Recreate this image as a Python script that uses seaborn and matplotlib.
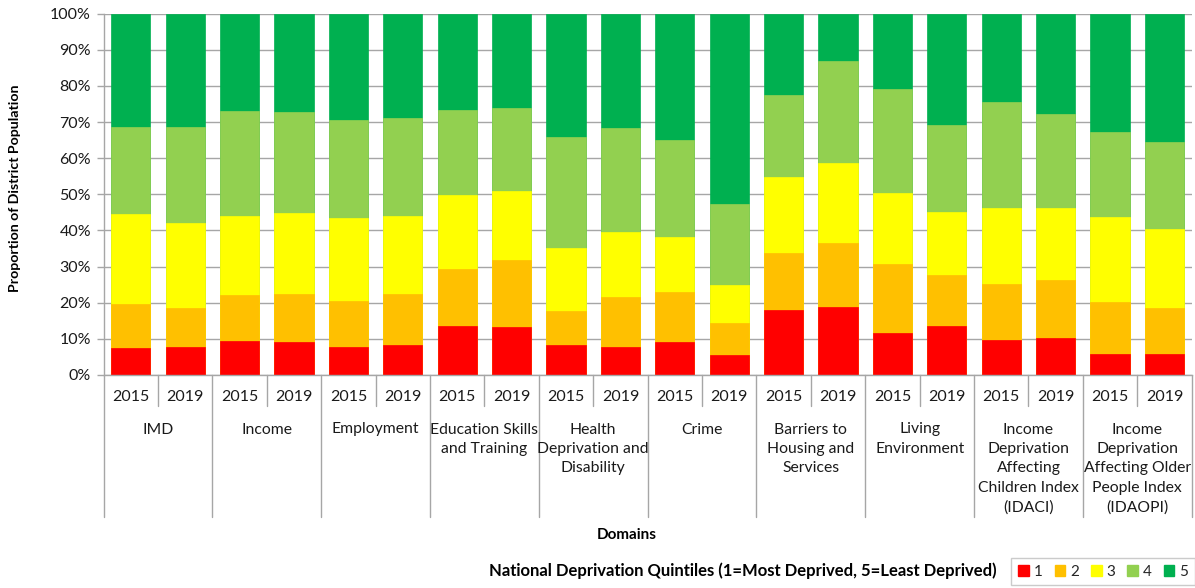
import numpy as np
import pandas as pd
import matplotlib
matplotlib.use("Agg")
import matplotlib.pyplot as plt
import matplotlib.transforms as mtransforms
from matplotlib.patches import Patch
import seaborn as sns

# ---- data ----
domains = ["IMD", "Income", "Employment", "Education Skills\nand Training",
           "Health\nDeprivation and\nDisability", "Crime",
           "Barriers to\nHousing and\nServices", "Living\nEnvironment",
           "Income\nDeprivation\nAffecting\nChildren Index\n(IDACI)",
           "Income\nDeprivation\nAffecting Older\nPeople Index\n(IDAOPI)"]
years = ["2015", "2019"]

q1 = [7.5, 7.7, 9.3, 9.0, 7.8, 8.2, 13.7, 13.2, 8.4, 7.8, 9.2, 5.4, 18.1, 18.7, 11.7, 13.7, 9.8, 10.3, 5.7, 5.9]
q2 = [12.1, 10.9, 12.8, 13.4, 12.6, 14.1, 15.6, 18.5, 9.4, 13.7, 13.9, 9.1, 15.8, 17.8, 19.1, 13.9, 15.4, 16.0, 14.5, 12.7]
q3 = [25.0, 23.6, 22.0, 22.3, 23.1, 21.6, 20.6, 19.1, 17.3, 18.1, 15.2, 10.4, 21.0, 22.1, 19.6, 17.4, 21.1, 19.8, 23.5, 21.8]
q4 = [24.0, 26.5, 29.1, 28.1, 27.0, 27.3, 23.4, 23.0, 30.9, 28.9, 26.7, 22.4, 22.6, 28.2, 28.8, 24.1, 29.2, 26.2, 23.6, 24.2]
q5 = [31.4, 31.3, 26.8, 27.2, 29.5, 28.8, 26.7, 26.2, 34.0, 31.5, 35.0, 52.7, 22.5, 13.2, 20.8, 30.9, 24.5, 27.7, 32.7, 35.4]

quintile_labels = ["1", "2", "3", "4", "5"]
colors = ["#FF0000", "#FFC000", "#FFFF00", "#92D050", "#00B050"]

# ---- build frame ----
n = len(q1)
pos = [str(i) for i in range(n)]
year_labels = [years[i % 2] for i in range(n)]
series = np.array([q1, q2, q3, q4, q5])
cum = np.cumsum(series, axis=0)
df = pd.DataFrame({"pos": pos})
for k in range(5):
    df[f"c{k}"] = cum[k]

sns.set_theme(style="white")
plt.rcParams["font.family"] = ["Lato", "DejaVu Sans"]

W, H = 1195, 588
fig = plt.figure(figsize=(W / 100, H / 100), dpi=100)
left_px, right_px, top_px, bot_px = 103.5, 1191.7, 13.7, 375.0
ax = fig.add_axes([left_px / W, 1 - bot_px / H, (right_px - left_px) / W, (bot_px - top_px) / H])

for k in range(4, -1, -1):
    sns.barplot(data=df, x="pos", y=f"c{k}", order=pos, color=colors[k],
                saturation=1, width=0.72, ax=ax, edgecolor=colors[k], linewidth=0.5)

TXT = "#1a1a1a"
ax.set_xlim(-0.5, n - 0.5)
ax.set_ylim(0, 100)
ax.set_yticks(np.arange(0, 101, 10))
ax.set_yticklabels([f"{v}%" for v in range(0, 101, 10)], fontsize=11.5, color=TXT)
ax.yaxis.grid(True, color="#A6A6A6", linewidth=1.0)
ax.set_axisbelow(True)
ax.tick_params(axis="y", length=5, width=1, color="#A6A6A6", pad=4, left=True)
ax.set_xticks(range(n))
ax.set_xticklabels(year_labels, fontsize=11.5, color=TXT)
ax.tick_params(axis="x", length=0, pad=11)
ax.set_xlabel("")
ax.set_ylabel("")
for s in ["top", "right"]:
    ax.spines[s].set_visible(False)
for s in ["left", "bottom"]:
    ax.spines[s].set_color("#A6A6A6")
    ax.spines[s].set_linewidth(1.0)

# category separators
ah = bot_px - top_px
trans = mtransforms.blended_transform_factory(ax.transData, ax.transAxes)
y_short = -(406 - bot_px) / ah
y_long = -(517 - bot_px) / ah
for i in range(n + 1):
    x = i - 0.5
    yb = y_long if i % 2 == 0 else y_short
    ax.plot([x, x], [0, yb], transform=trans, color="#A6A6A6", lw=1.0, clip_on=False)

# group labels
y_grp = -(422.5 - bot_px) / ah
for g, name in enumerate(domains):
    ax.text(2 * g + 0.5, y_grp, name, transform=trans, ha="center", va="top",
            fontsize=11.3, color=TXT, linespacing=1.49)

fig.text(15 / W, 1 - 188 / H, "Proportion of District Population", rotation=90,
         ha="center", va="center", fontsize=10.2, fontweight="bold", color="black")
fig.text(627 / W, 1 - 535 / H, "Domains", ha="center", va="center",
         fontsize=11, fontweight="bold", color="black")
fig.text(489 / W, 1 - 571 / H, "National Deprivation Quintiles (1=Most Deprived, 5=Least Deprived)",
         ha="left", va="center", fontsize=12.0, fontweight="bold", color="black")

handles = [Patch(facecolor=c, edgecolor=c, label=l) for c, l in zip(colors, quintile_labels)]
leg = fig.legend(handles=handles, ncol=5, loc="center",
                 bbox_to_anchor=((1013 + 1193) / 2 / W, 1 - 571.5 / H),
                 frameon=True, fancybox=False, fontsize=11,
                 handlelength=0.7, handleheight=0.7, handletextpad=0.3,
                 columnspacing=0.8, borderpad=0.45, borderaxespad=0)
leg.get_frame().set_edgecolor("#BFBFBF")
leg.get_frame().set_linewidth(1.0)

fig.savefig("out.png", dpi=100)
